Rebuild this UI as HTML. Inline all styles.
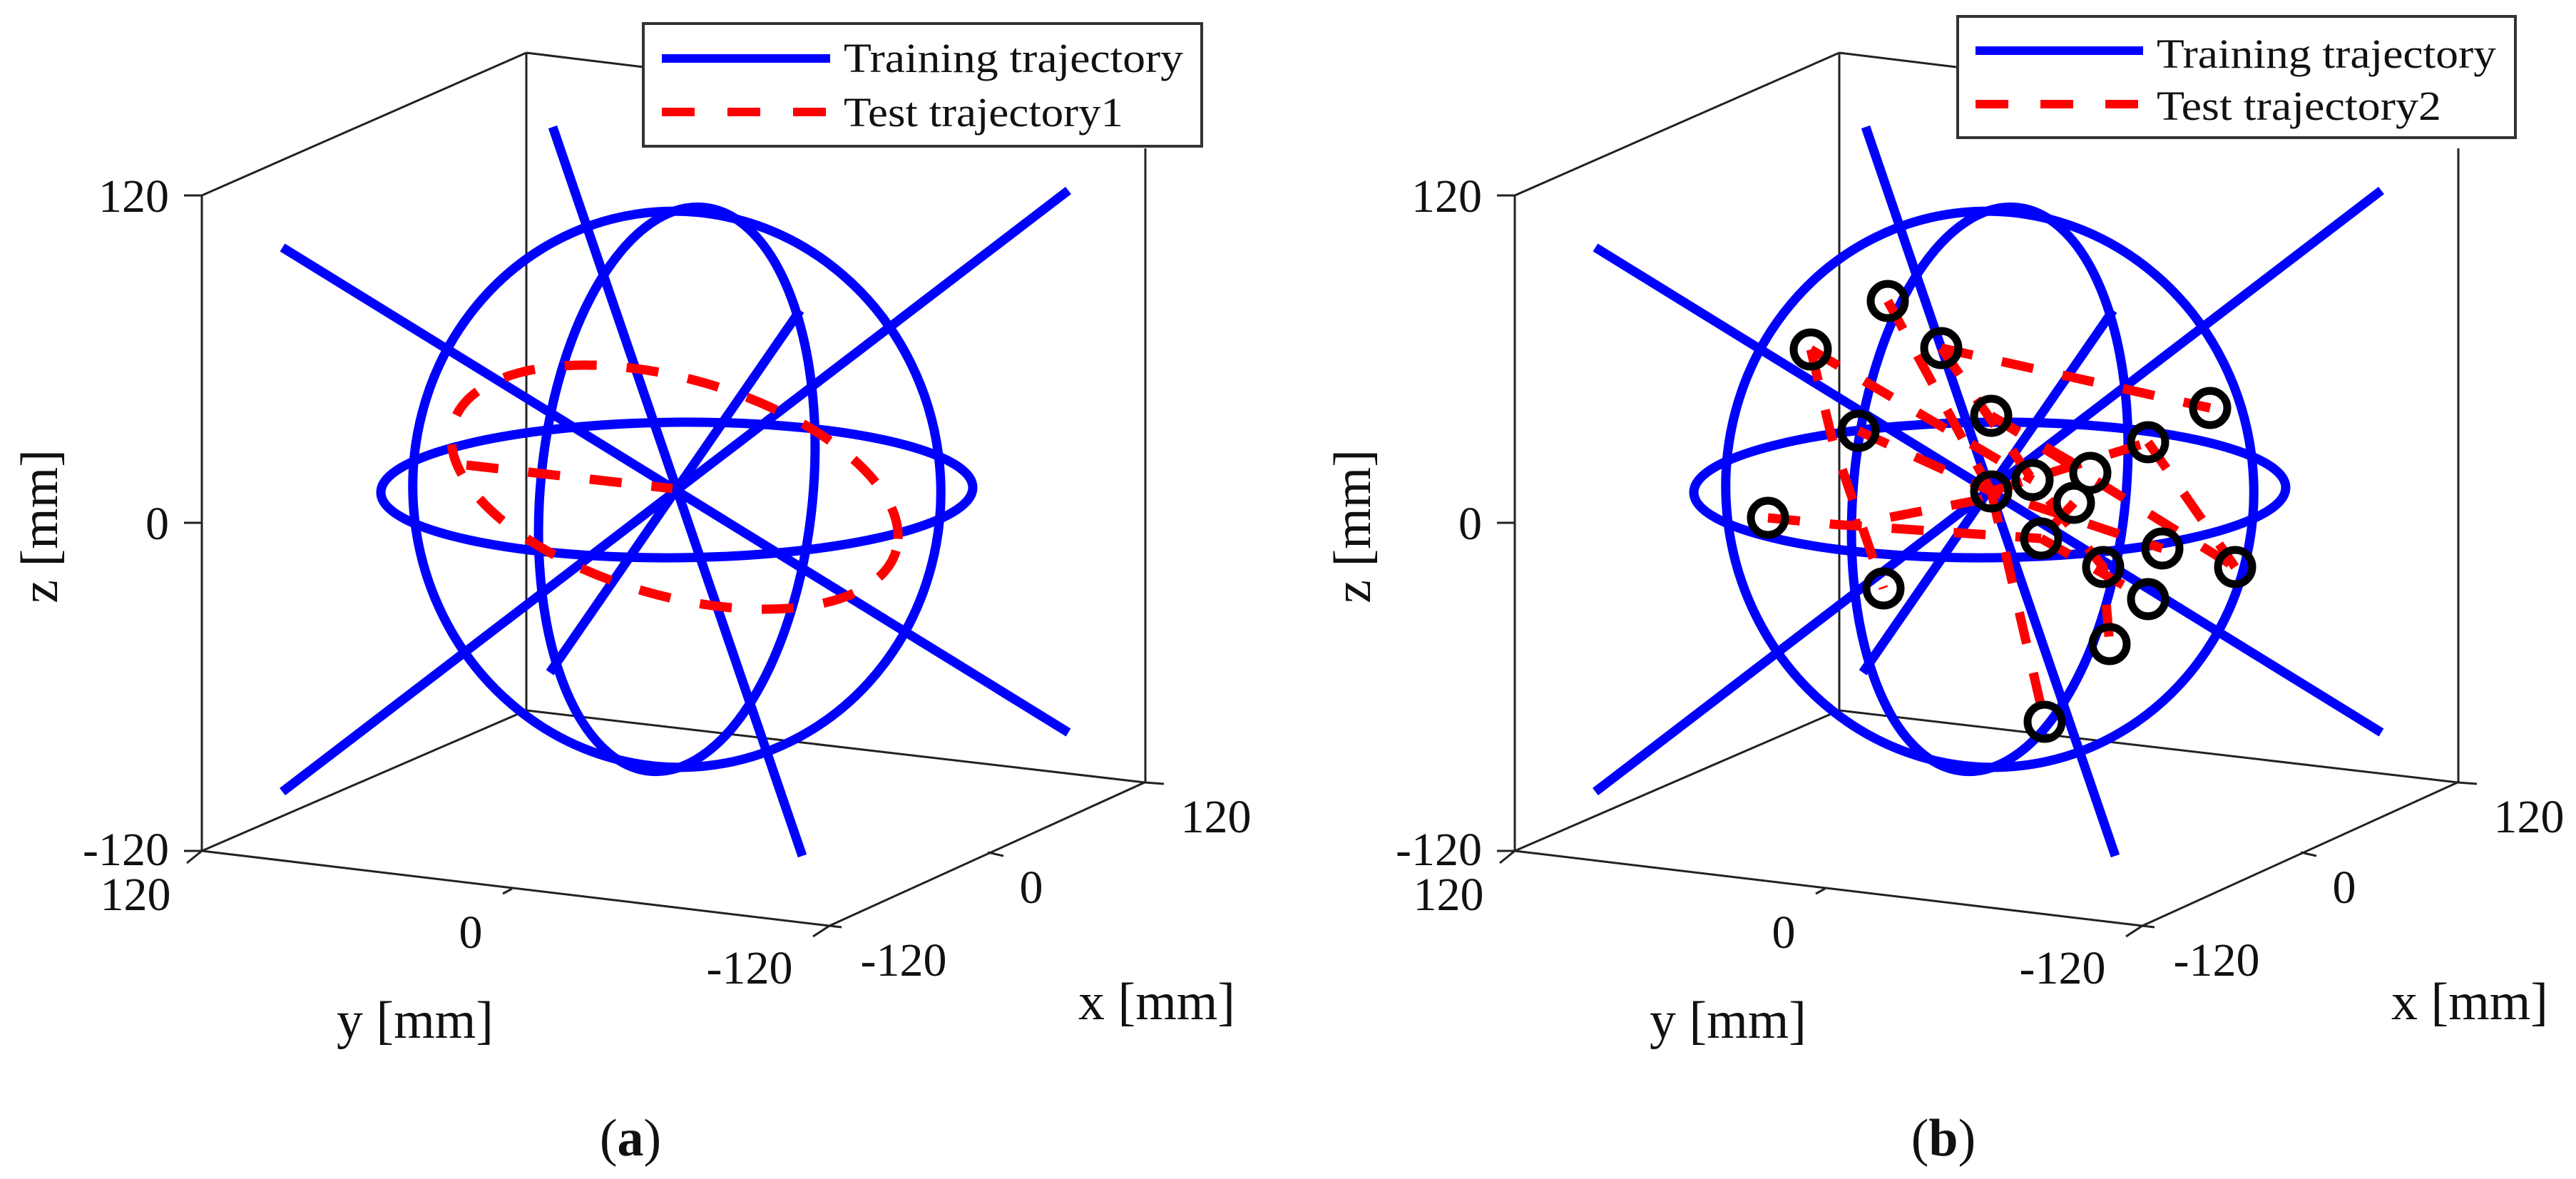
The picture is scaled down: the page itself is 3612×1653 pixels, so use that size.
<!DOCTYPE html>
<html><head><meta charset="utf-8"><style>
html,body{margin:0;padding:0;background:#fff;}
svg{display:block;}
text{font-family:"Liberation Serif",serif;fill:#111;}
</style></head><body>
<svg width="3612" height="1653" viewBox="0 0 3612 1653" xmlns="http://www.w3.org/2000/svg">
<defs>
<g id="geom">
  <!-- axes box -->
  <g stroke="#222" stroke-width="3" fill="none">
    <line x1="283" y1="274" x2="283" y2="1193"/>
    <line x1="283" y1="274" x2="738" y2="74"/>
    <line x1="738" y1="74" x2="902" y2="94"/>
    <line x1="738" y1="74" x2="738" y2="996"/>
    <line x1="283" y1="1193" x2="738" y2="996"/>
    <line x1="738" y1="996" x2="1605" y2="1097"/>
    <line x1="1606" y1="208" x2="1606" y2="1097"/>
    <line x1="283" y1="1193" x2="1163" y2="1298"/>
    <line x1="1163" y1="1298" x2="1605" y2="1097"/>
    <line x1="258" y1="274" x2="283" y2="274"/>
    <line x1="258" y1="733" x2="283" y2="733"/>
    <line x1="258" y1="1193" x2="283" y2="1193"/>
    <line x1="283" y1="1193" x2="262" y2="1210"/>
    <line x1="705" y1="1253" x2="718" y2="1246"/>
    <line x1="1163" y1="1298" x2="1140" y2="1313"/>
    <line x1="1163" y1="1298" x2="1180" y2="1300"/>
    <line x1="1385" y1="1195" x2="1407" y2="1200"/>
    <line x1="1605" y1="1097" x2="1632" y2="1099"/>
  </g>
  <!-- blue training -->
  <g stroke="#0000ff" stroke-width="13" fill="none">
    <ellipse cx="949" cy="686" rx="370" ry="390" transform="rotate(-6 949 686)"/>
    <ellipse cx="949" cy="686" rx="191" ry="397" transform="rotate(5.5 949 686)"/>
    <ellipse cx="949" cy="687" rx="415" ry="95" transform="rotate(-0.5 949 687)"/>
    <line x1="775" y1="178" x2="1125" y2="1200"/>
    <line x1="396" y1="347" x2="1498" y2="1027"/>
    <line x1="1498" y1="267" x2="396" y2="1110"/>
    <line x1="1122" y1="435" x2="771" y2="943"/>
  </g>
</g>
</defs>

<!-- ===== Panel a ===== -->
<use href="#geom"/>
<g stroke="#ff0000" stroke-width="13" fill="none" stroke-dasharray="45 42">
  <ellipse cx="946" cy="683" rx="323" ry="152" transform="rotate(16 946 683)"/>
  <line x1="654" y1="652" x2="943" y2="685"/>
</g>
<rect x="902" y="33" width="783" height="172" fill="#fff" stroke="#333" stroke-width="4"/>
<line x1="928" y1="82" x2="1164" y2="82" stroke="#0000ff" stroke-width="12"/>
<line x1="928" y1="157" x2="1164" y2="157" stroke="#ff0000" stroke-width="12" stroke-dasharray="46 46"/>
<text x="1183" y="101" font-size="58" textLength="476" lengthAdjust="spacingAndGlyphs">Training trajectory</text>
<text x="1183" y="177" font-size="58" textLength="392" lengthAdjust="spacingAndGlyphs">Test trajectory1</text>

<g font-size="66">
  <text x="237" y="297" text-anchor="end">120</text>
  <text x="237" y="756" text-anchor="end">0</text>
  <text x="237" y="1213" text-anchor="end">-120</text>
  <text x="190" y="1276" text-anchor="middle">120</text>
  <text x="660" y="1329" text-anchor="middle">0</text>
  <text x="1051" y="1379" text-anchor="middle">-120</text>
  <text x="1705" y="1167" text-anchor="middle">120</text>
  <text x="1446" y="1266" text-anchor="middle">0</text>
  <text x="1267" y="1368" text-anchor="middle">-120</text>
</g>
<g font-size="74">
  <text x="582" y="1455" text-anchor="middle">y [mm]</text>
  <text x="1622" y="1429" text-anchor="middle">x [mm]</text>
  <text transform="translate(80 738) rotate(-90)" text-anchor="middle">z [mm]</text>
  <text x="884" y="1620" text-anchor="middle">(<tspan font-weight="bold">a</tspan>)</text>
</g>

<!-- ===== Panel b ===== -->
<use href="#geom" transform="translate(1841 0)"/>
<g stroke="#ff0000" stroke-width="13" fill="none" stroke-dasharray="45 42">
  <polyline points="2647,422 2792,689"/>
  <polyline points="2722,488 2850,673 2949,795 2958,903"/>
  <polyline points="2722,488 3099,572"/>
  <polyline points="2539,490 2570,620 2641,825"/>
  <polyline points="2539,490 2850,673"/>
  <polyline points="2479,726 2570,735 2862,755"/>
  <polyline points="2792,583 3134,795"/>
  <polyline points="2792,689 3012,620"/>
  <polyline points="2792,689 2867,1012"/>
  <polyline points="2606,604 2792,689 3032,769"/>
  <polyline points="3012,620 3134,795"/>
  <polyline points="2862,755 3012,840"/>
  <polyline points="2792,583 2931,663"/>
  <polyline points="2780,700 2600,735"/>
  <polyline points="2908,705 2862,755"/>
</g>
<g stroke="#000" stroke-width="11" fill="none">
  <circle cx="2647" cy="422" r="24"/><circle cx="2539" cy="490" r="24"/>
  <circle cx="2722" cy="488" r="24"/><circle cx="2792" cy="583" r="24"/>
  <circle cx="2606" cy="604" r="24"/><circle cx="3099" cy="572" r="24"/>
  <circle cx="3012" cy="620" r="24"/><circle cx="2931" cy="663" r="24"/>
  <circle cx="2850" cy="673" r="24"/><circle cx="2908" cy="705" r="24"/>
  <circle cx="2792" cy="689" r="24"/><circle cx="2479" cy="726" r="24"/>
  <circle cx="2862" cy="755" r="24"/><circle cx="3032" cy="769" r="24"/>
  <circle cx="2949" cy="795" r="24"/><circle cx="3134" cy="795" r="24"/>
  <circle cx="2641" cy="825" r="24"/><circle cx="3012" cy="840" r="24"/>
  <circle cx="2958" cy="903" r="24"/><circle cx="2867" cy="1012" r="24"/>
</g>
<rect x="2745" y="23" width="782" height="170" fill="#fff" stroke="#333" stroke-width="4"/>
<line x1="2770" y1="71" x2="3005" y2="71" stroke="#0000ff" stroke-width="12"/>
<line x1="2770" y1="146" x2="3005" y2="146" stroke="#ff0000" stroke-width="12" stroke-dasharray="46 45"/>
<text x="3024" y="95" font-size="58" textLength="476" lengthAdjust="spacingAndGlyphs">Training trajectory</text>
<text x="3024" y="168" font-size="58" textLength="399" lengthAdjust="spacingAndGlyphs">Test trajectory2</text>

<g font-size="66">
  <text x="2078" y="297" text-anchor="end">120</text>
  <text x="2078" y="756" text-anchor="end">0</text>
  <text x="2078" y="1213" text-anchor="end">-120</text>
  <text x="2031" y="1276" text-anchor="middle">120</text>
  <text x="2501" y="1329" text-anchor="middle">0</text>
  <text x="2892" y="1379" text-anchor="middle">-120</text>
  <text x="3546" y="1167" text-anchor="middle">120</text>
  <text x="3287" y="1266" text-anchor="middle">0</text>
  <text x="3108" y="1368" text-anchor="middle">-120</text>
</g>
<g font-size="74">
  <text x="2423" y="1455" text-anchor="middle">y [mm]</text>
  <text x="3463" y="1429" text-anchor="middle">x [mm]</text>
  <text transform="translate(1921 738) rotate(-90)" text-anchor="middle">z [mm]</text>
  <text x="2725" y="1620" text-anchor="middle">(<tspan font-weight="bold">b</tspan>)</text>
</g>
</svg>
</body></html>
